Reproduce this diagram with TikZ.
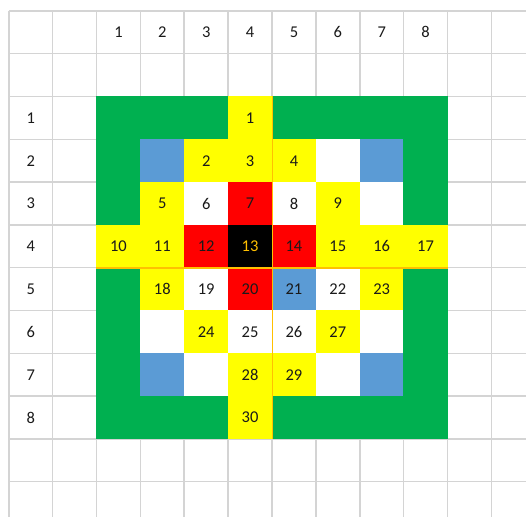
\documentclass[tikz,border=0pt]{standalone}
\usepackage{fontspec}
\setmainfont{Carlito}
\definecolor{gridgray}{HTML}{D4D4D4}
\definecolor{xgreen}{HTML}{00B050}
\definecolor{xyellow}{HTML}{FFFF00}
\definecolor{xred}{HTML}{FF0000}
\definecolor{xblue}{HTML}{5B9BD5}
\definecolor{xorange}{HTML}{FFC000}
\definecolor{xtext}{HTML}{1A1A1A}
\begin{document}
\begin{tikzpicture}[x=1pt,y=-1pt,
  cellbox/.style={minimum width=44.2pt,minimum height=43.1pt,inner sep=0pt,outer sep=0pt,draw=none,
    font=\fontsize{16.5}{18}\selectfont,text=xtext},
  lbl/.style={inner sep=0pt,font=\fontsize{16.5}{18}\selectfont,text=xtext},
  vgrid/.style={gridgray,line width=1.7pt},
  hgrid/.style={gridgray,line width=1.3pt},
  orangeline/.style={xorange}]
\useasboundingbox (0,0) rectangle (526,517);
\fill[white] (0,0) rectangle (526,517);
% grid lines
\foreach \i in {0,...,11} {
  \pgfmathsetmacro{\xx}{96.5+(\i-2)*43.875}
  \draw[vgrid] (\xx,10.9) -- (\xx,517);
}
\foreach \j in {0,...,11} {
  \pgfmathsetmacro{\yy}{96.5+(\j-2)*42.8}
  \draw[hgrid] (8.75,\yy) -- (526,\yy);
}
% header labels
\foreach \c in {1,...,8} {
  \node[lbl] (top-\c) at ({96.5+(\c-0.5)*43.875},32.3) {\c};
  \node[lbl] (left-\c) at (30.7,{96.5+(\c-0.5)*42.8}) {\c};
}
% board cells: row/col/colour/text
\foreach \r/\c/\col/\t in {
 1/1/xgreen/,1/2/xgreen/,1/3/xgreen/,1/4/xyellow/1,1/5/xgreen/,1/6/xgreen/,1/7/xgreen/,1/8/xgreen/,
 2/1/xgreen/,2/2/xblue/,2/3/xyellow/2,2/4/xyellow/3,2/5/xyellow/4,2/6/white/,2/7/xblue/,2/8/xgreen/,
 3/1/xgreen/,3/2/xyellow/5,3/3/white/6,3/4/xred/7,3/5/white/8,3/6/xyellow/9,3/7/white/,3/8/xgreen/,
 4/1/xyellow/10,4/2/xyellow/11,4/3/xred/12,4/5/xred/14,4/6/xyellow/15,4/7/xyellow/16,4/8/xyellow/17,
 5/1/xgreen/,5/2/xyellow/18,5/3/white/19,5/4/xred/20,5/5/xblue/21,5/6/white/22,5/7/xyellow/23,5/8/xgreen/,
 6/1/xgreen/,6/2/white/,6/3/xyellow/24,6/4/white/25,6/5/white/26,6/6/xyellow/27,6/7/white/,6/8/xgreen/,
 7/1/xgreen/,7/2/xblue/,7/3/white/,7/4/xyellow/28,7/5/xyellow/29,7/6/white/,7/7/xblue/,7/8/xgreen/,
 8/1/xgreen/,8/2/xgreen/,8/3/xgreen/,8/4/xyellow/30,8/5/xgreen/,8/6/xgreen/,8/7/xgreen/,8/8/xgreen/} {
  \node[cellbox,fill=\col] (b-\r-\c) at ({96.5+(\c-0.5)*43.875},{96.5+(\r-0.5)*42.8}) {\t};
}
\node[cellbox,fill=black,text=xorange] (b-4-4) at ({96.5+3.5*43.875},{96.5+3.5*42.8}) {13};
% orange borders
\draw[orangeline,line width=2.2pt] (b-4-1.south west) -- (b-4-8.south east);
\draw[orangeline,line width=1pt] (b-1-4.north east) -- (b-8-4.south east);
\end{tikzpicture}
\end{document}
